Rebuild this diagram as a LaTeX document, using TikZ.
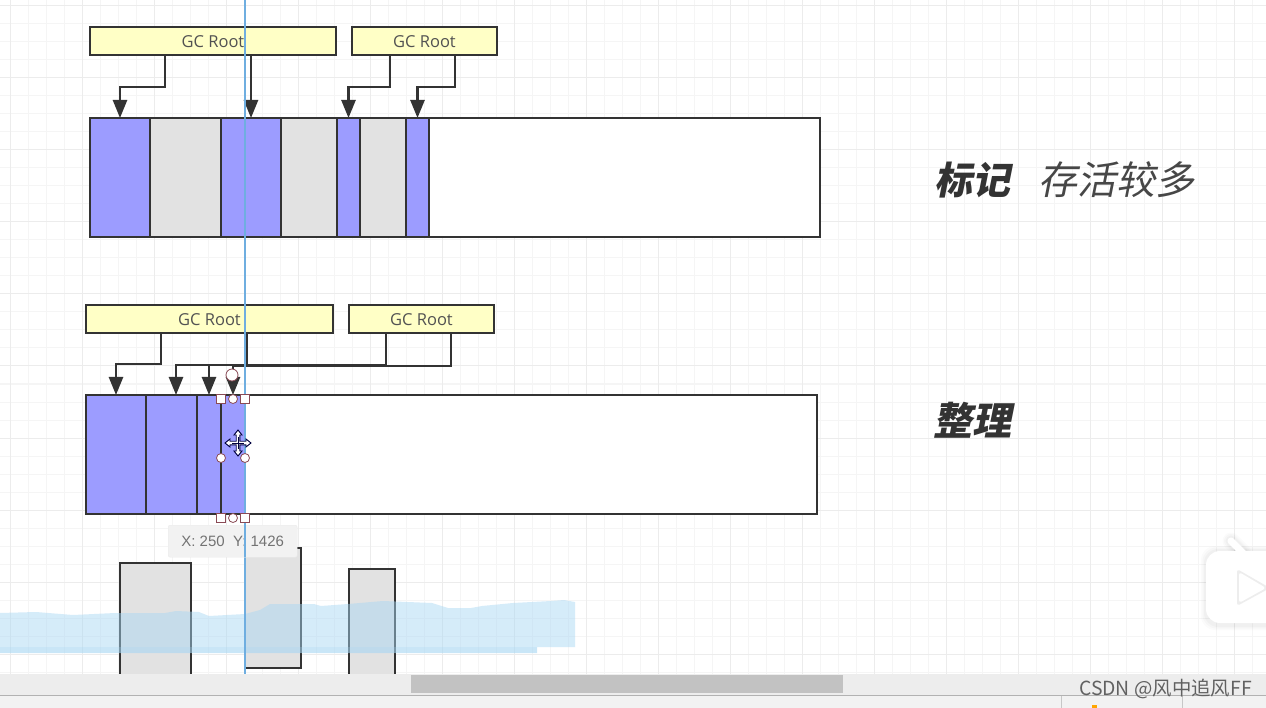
\documentclass[tikz,border=0pt]{standalone}
\usepackage{fontspec}
\setmainfont{Liberation Sans}
\newfontfamily\rootfont{Open Sans}
\newfontfamily\cjkreg[FakeSlant=0.2]{Noto Sans CJK SC}
\newfontfamily\cjkplain{Noto Sans CJK SC}
\usetikzlibrary{arrows.meta,calc}
\definecolor{ink}{HTML}{333333}
\definecolor{purplecell}{HTML}{9C9CFF}
\definecolor{graycell}{HTML}{E2E2E2}
\definecolor{rootfill}{HTML}{FFFFC6}
\definecolor{gridminor}{HTML}{F5F5F5}
\definecolor{gridmajor}{HTML}{ECECEC}
\definecolor{guide}{HTML}{6FAEE0}
\definecolor{handle}{HTML}{8A4A55}
\definecolor{bandc}{HTML}{A7D7F3}
\tikzset{
  basebox/.style={draw=ink,line width=2.5pt,inner sep=0pt,outer sep=0pt,anchor=north west},
  purplebox/.style={basebox,fill=purplecell},
  graybox/.style={basebox,fill=graycell},
  whitebox/.style={basebox,fill=white},
  rootbox/.style={basebox,fill=rootfill,text=black!68,font=\rootfont\fontsize{16.5}{18}\selectfont},
  conn/.style={draw=ink,line width=2.5pt},
  arrowconn/.style={conn,-{Triangle[length=18pt,width=14pt]}},
  sqhandle/.style={draw=handle,fill=white,line width=.8pt,minimum size=9pt,inner sep=0pt},
  cirhandle/.style={circle,draw=handle,fill=white,line width=.8pt,minimum size=9pt,inner sep=0pt},
  bigtitle/.style={text=ink,inner sep=0pt,anchor=west}
}
\newcommand{\boxat}[6]{%
  \pgfmathsetmacro{\bw}{#5-#3}\pgfmathsetmacro{\bh}{#6-#4}%
  \node[#1,minimum width=\bw pt,minimum height=\bh pt] (#2) at (#3,#4) {};}
\newcommand{\gcroot}{\raisebox{-7pt}[0pt][0pt]{GC Root}}
\begin{document}
\begin{tikzpicture}[x=1pt,y=-1pt]
\useasboundingbox (0,0) rectangle (1266,708);
\clip (0,0) rectangle (1266,708);
\fill[white] (0,0) rectangle (1266,708);
% grid
\foreach \i in {0,...,70}{\draw[gridminor,line width=1pt] ({10+18*\i},0) -- ({10+18*\i},674);}
\foreach \i in {0,...,37}{\draw[gridminor,line width=1pt] (0,{6+18*\i}) -- (1266,{6+18*\i});}
\foreach \i in {0,...,17}{\draw[gridmajor,line width=1pt] ({10+72*\i},0) -- ({10+72*\i},674);}
\foreach \i in {0,...,9}{\draw[gridmajor,line width=1pt] (0,{6+72*\i}) -- (1266,{6+72*\i});}
% lower gray rectangles
\draw[ink,line width=2.5pt,fill=graycell] (120,674) -- (120,563) -- (191,563) -- (191,674);
\boxat{graybox}{low2}{245}{548}{301}{668}
\draw[ink,line width=2.5pt,fill=graycell] (349,674) -- (349,569) -- (395,569) -- (395,674);
% top bar
\boxat{whitebox}{barA}{90}{118}{820}{237}
\boxat{purplebox}{a1}{90}{118}{150}{237}
\boxat{graybox}{a2}{150}{118}{221}{237}
\boxat{purplebox}{a3}{221}{118}{281}{237}
\boxat{graybox}{a4}{281}{118}{337}{237}
\boxat{purplebox}{a5}{337}{118}{360}{237}
\boxat{graybox}{a6}{360}{118}{406}{237}
\boxat{purplebox}{a7}{406}{118}{429}{237}
% second bar
\boxat{whitebox}{barB}{86}{395}{817}{514}
\boxat{purplebox}{b1}{86}{395}{146}{514}
\boxat{purplebox}{b2}{146}{395}{197}{514}
\boxat{purplebox}{b3}{197}{395}{221}{514}
\boxat{purplebox}{b4}{221}{395}{245}{514}
% roots
\node[rootbox,minimum width=246pt,minimum height=28pt] (r1) at (90,27) {\gcroot};
\node[rootbox,minimum width=145pt,minimum height=28pt] (r2) at (352,27) {\gcroot};
\node[rootbox,minimum width=247pt,minimum height=28pt] (r3) at (86,305) {\gcroot};
\node[rootbox,minimum width=145pt,minimum height=28pt] (r4) at (349,305) {\gcroot};
% connector starts
\coordinate (s1) at ($(r1.south west)+(75,0)$);
\coordinate (s2) at (a3.north |- r1.south);
\coordinate (s3) at ($(r2.south west)+(38,0)$);
\coordinate (s4) at ($(r2.south west)+(103,0)$);
\coordinate (s5) at ($(r3.south west)+(75,0)$);
\coordinate (s6) at ($(r3.south west)+(161,0)$);
\coordinate (s7) at ($(r4.south west)+(37,0)$);
\coordinate (s8) at ($(r4.south west)+(102,0)$);
\coordinate (t2) at ($(b2.north)+(4.5,0)$);
% top connectors
\draw[arrowconn] (s1) -- ++(0,32) -| (a1.north);
\draw[arrowconn] (s2) -- (a3.north);
\draw[arrowconn] (s3) -- ++(0,32) -| (a5.north);
\draw[arrowconn] (s4) -- ++(0,32) -| (a7.north);
% second connectors
\draw[arrowconn] (s5) -- ++(0,31) -| (b1.north);
\draw[arrowconn] (s6) -- ++(0,32) -| (t2);
\draw[arrowconn] (s7) -- ++(0,32) -| (b3.north);
\draw[arrowconn] (s8) -- ++(0,33) -| (b4.north);
% watercolour band
\fill[bandc,fill opacity=.47]
 (0,613) -- (36,612) -- (73,615) -- (115,613) -- (165,613) -- (176,611) -- (199,612) -- (209,616)
 -- (245,614) -- (260,610) -- (270,604) -- (314,604) -- (321,606) -- (348,604) -- (383,601)
 -- (432,603) -- (448,608) -- (471,608) -- (482,606) -- (513,603) -- (551,601) -- (564,600) -- (575,602)
 -- (575,647) -- (537,647) -- (537,653) -- (0,653) -- cycle;
\fill[bandc,fill opacity=.25] (0,647) rectangle (537,653);
% guide
\draw[guide,line width=1.2pt] (245,0) -- (245,674);
% tooltip
\node[draw=black!8,fill=black!5,rounded corners=2pt,minimum width=129pt,minimum height=32pt,inner sep=0pt,anchor=north west,text=black!55,font=\fontsize{15}{17}\selectfont] (tip) at (168,525) {X: 250\ \ Y:\ 1426};
\draw[guide,line width=1.2pt] (245,525) -- (245,557);
% handles
\node[sqhandle] (h1) at (221,399) {};
\node[sqhandle] (h2) at (245,399) {};
\node[sqhandle] (h3) at (221,518) {};
\node[sqhandle] (h4) at (245,518) {};
\node[cirhandle] (h5) at (233,399) {};
\node[cirhandle] (h6) at (233,518) {};
\node[cirhandle] (h7) at (221,458) {};
\node[cirhandle] (h8) at (245,458) {};
\node[cirhandle,minimum size=12pt] (h9) at (232,375) {};
% move cursor
\begin{scope}[shift={(238,443)}]
\draw[draw=black!75!blue,fill=white,line width=.9pt,line join=miter]
 (0,-13) -- (4,-8) -- (1.8,-8) -- (1.8,-1.8) -- (8,-1.8) -- (8,-4) -- (13,0) -- (8,4) -- (8,1.8) -- (1.8,1.8) -- (1.8,8) -- (4,8) -- (0,13) -- (-4,8) -- (-1.8,8) -- (-1.8,1.8) -- (-8,1.8) -- (-8,4) -- (-13,0) -- (-8,-4) -- (-8,-1.8) -- (-1.8,-1.8) -- (-1.8,-8) -- (-4,-8) -- cycle;
\draw[draw=black!75!blue,line width=.8pt] (-6,0) -- (6,0) (0,-6) -- (0,6);
\end{scope}
% titles
\node[bigtitle,font=\cjkreg\bfseries\fontsize{38}{40}\selectfont] (t1) at (934,180) {标记};
\node[bigtitle,text=black!72,font=\cjkreg\fontsize{39}{41}\selectfont] (t3) at (1038,180) {存活较多};
\node[bigtitle,font=\cjkreg\bfseries\fontsize{39}{41}\selectfont] (t4) at (933,420) {整理};
% tv icon
\foreach \d/\o in {5/.015,3.5/.02,2/.025}{
  \fill[black,opacity=\o,rounded corners=14pt] ({1206-\d},{551-\d}) rectangle (1300,{625+\d});
  \draw[black,opacity=\o,line width={7pt+2*\d pt},line cap=round] (1231,541) -- (1243,553);
}
\draw[white,line width=7pt,line cap=round] (1231,541) -- (1243,553);
\fill[white,rounded corners=14pt] (1206,551) rectangle (1300,623);
\fill[black!7,rounded corners=3pt] (1237,569) -- (1237,606) -- (1270,588) -- cycle;
\fill[white,rounded corners=3pt] (1239,572) -- (1239,603) -- (1266,588) -- cycle;
% bottom chrome
\fill[black!7] (0,674) rectangle (1266,695);
\fill[black!5] (0,696) rectangle (1266,708);
\fill[black!24] (411,675) rectangle (843,693);
\draw[black!30,line width=1pt] (0,695.5) -- (1266,695.5);
\draw[black!22,line width=1pt] (1061,696) -- (1061,708);
\draw[black!22,line width=1pt] (1182,696) -- (1182,708);
\fill[orange!70!yellow] (1092,705) rectangle (1097,708);
% watermark
\node[text=black!62,inner sep=0pt,anchor=west,font=\cjkplain\fontsize{19.4}{21}\selectfont] (wm) at (1079,689) {CSDN @风中追风FF};
\end{tikzpicture}
\end{document}
